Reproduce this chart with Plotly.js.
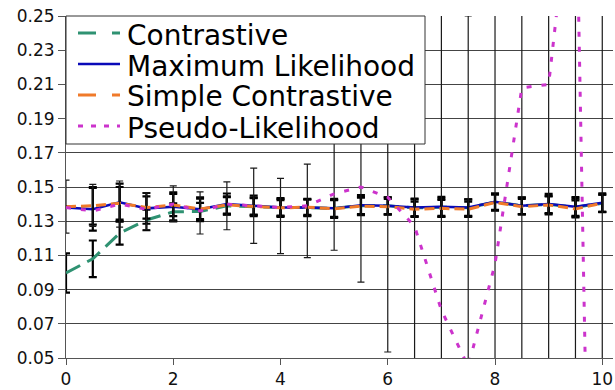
<!DOCTYPE html>
<html>
<head>
<meta charset="utf-8">
<script src="https://cdn.plot.ly/plotly-3.0.1.min.js"></script>
<style>
  html, body { margin: 0; padding: 0; background: #fff; }
  #chart { width: 615px; height: 390px; }
</style>
</head>
<body>
<div id="chart"></div>
<script>
// ---- data ----
const xVals = [0, 0.5, 1, 1.5, 2, 2.5, 3, 3.5, 4, 4.5, 5, 5.5, 6, 6.5, 7, 7.5, 8, 8.5, 9, 9.5, 10];
const seriesNames = ["Contrastive", "Maximum Likelihood", "Simple Contrastive", "Pseudo-Likelihood"];

const contrastive = [0.0997, 0.108, 0.123, 0.1307, 0.1355, 0.1357, 0.139, 0.1385, 0.138, 0.138, 0.1375, 0.1392, 0.139, 0.1378, 0.1382, 0.1378, 0.1412, 0.139, 0.1398, 0.1382, 0.1405];
const contrastiveErr = [0.0115, 0.0107, 0.0067, 0.006, 0.005, 0.005, 0.005, 0.005, 0.005, 0.005, 0.005, 0.005, 0.005, 0.005, 0.005, 0.005, 0.005, 0.005, 0.005, 0.005, 0.005];

const maxLik = [0.138, 0.137, 0.141, 0.1375, 0.1384, 0.137, 0.140, 0.139, 0.138, 0.138, 0.1375, 0.1394, 0.139, 0.138, 0.1384, 0.138, 0.1414, 0.139, 0.140, 0.1384, 0.1408];
const maxLikErr = [0, 0.0125, 0.011, 0.009, 0.0085, 0.007, 0.0062, 0.006, 0.0055, 0.0047, 0.0055, 0.0058, 0.005, 0.0052, 0.0058, 0.0048, 0.0048, 0.0048, 0.006, 0.0057, 0.0055];

const simpleContr = [0.1385, 0.139, 0.1405, 0.138, 0.1395, 0.1372, 0.1395, 0.1388, 0.1378, 0.1382, 0.1373, 0.1388, 0.1385, 0.137, 0.1375, 0.137, 0.141, 0.1385, 0.1395, 0.1372, 0.1405];
const simpleContrErr = [0, 0.011, 0.0095, 0.0065, 0.0065, 0.006, 0.005, 0.005, 0.0045, 0.0045, 0.005, 0.005, 0.0045, 0.0045, 0.005, 0.0045, 0.0045, 0.0045, 0.005, 0.005, 0.005];

const pseudoLik = [0.138, 0.136, 0.140, 0.137, 0.140, 0.136, 0.140, 0.139, 0.138, 0.139, 0.146, 0.150, 0.144, 0.127, 0.078, 0.045, 0.105, 0.208, 0.210, 0.35, -0.48];
const pseudoLikErrPlus = [0.016, 0.0155, 0.0135, 0.0096, 0.0107, 0.0112, 0.013, 0.022, 0.017, 0.0244, 0.034, 0.056, 0.09, 0.15, 0.2, 0.205, 0.25, 0.3, 0.4, 0.5, 1.0];
const pseudoLikErrMinus = [0.015, 0.009, 0.0135, 0.012, 0.010, 0.0135, 0.015, 0.022, 0.027, 0.0303, 0.033, 0.0556, 0.0905, 0.15, 0.2, 0.2, 0.25, 0.3, 0.4, 0.5, 1.0];

const yTickVals = [0.05, 0.07, 0.09, 0.11, 0.13, 0.15, 0.17, 0.19, 0.21, 0.23, 0.25];
const yTickText = ["0.05", "0.07", "0.09", "0.11", "0.13", "0.15", "0.17", "0.19", "0.21", "0.23", "0.25"];
const xTickVals = [0, 2, 4, 6, 8, 10];
const xTickText = ["0", "2", "4", "6", "8", "10"];

// ---- styles ----
const colors = ["#2f9272", "#0a0ab8", "#f07a2a", "#cc33cc"];
const dashes = ["16px,8px", "solid", "10px,5px", "5px,10px"];
const widths = [3, 2.5, 3, 3];
const legendDashes = ["18px,16px", "solid", "18px,16px", "5px,8px"];

const thickErr = (arr) => ({ type: "data", array: arr, visible: true, color: "#000", thickness: 2.2, width: 4 });

const traces = [
  { x: xVals, y: contrastive, name: seriesNames[0], mode: "lines",
    line: { color: colors[0], width: widths[0], dash: dashes[0] }, error_y: thickErr(contrastiveErr) },
  { x: xVals, y: maxLik, name: seriesNames[1], mode: "lines",
    line: { color: colors[1], width: widths[1] }, error_y: thickErr(maxLikErr) },
  { x: xVals, y: simpleContr, name: seriesNames[2], mode: "lines",
    line: { color: colors[2], width: widths[2], dash: dashes[2] }, error_y: thickErr(simpleContrErr) },
  { x: xVals, y: pseudoLik, name: seriesNames[3], mode: "lines",
    line: { color: colors[3], width: widths[3], dash: dashes[3] },
    error_y: { type: "data", symmetric: false, array: pseudoLikErrPlus, arrayminus: pseudoLikErrMinus,
               visible: true, color: "#1a1a1a", thickness: 1.2, width: 3.5 } }
].map(t => Object.assign(t, { showlegend: false, cliponaxis: true, hoverinfo: "skip" }));

// ---- layout geometry (pixels) ----
const W = 615, H = 390, ML = 66, MR = 2, MT = 16, MB = 32;
const pw = W - ML - MR, ph = H - MT - MB;
const px = (p) => (p - ML) / pw;
const py = (p) => (H - MB - p) / ph;

const legendRows = [35, 66, 97, 128];
const shapes = [
  { type: "rect", xref: "paper", yref: "paper", x0: px(66), x1: px(425), y0: py(144), y1: py(16),
    fillcolor: "#ffffff", line: { color: "#333", width: 1 }, layer: "above" }
];
const annotations = [];
seriesNames.forEach((n, i) => {
  shapes.push({ type: "line", xref: "paper", yref: "paper", x0: px(78), x1: px(120),
    y0: py(legendRows[i] - 2), y1: py(legendRows[i] - 2), layer: "above",
    line: { color: colors[i], width: widths[i], dash: legendDashes[i] } });
  annotations.push({ xref: "paper", yref: "paper", x: px(125), y: py(legendRows[i]), xanchor: "left",
    yanchor: "middle", showarrow: false, text: n,
    font: { family: "DejaVu Sans", size: 28, color: "#000" } });
});

const layout = {
  width: W, height: H,
  margin: { l: ML, r: MR, t: MT, b: MB, pad: 0 },
  paper_bgcolor: "#fff", plot_bgcolor: "#fff",
  showlegend: false,
  xaxis: { range: [0, 10.2], tickmode: "array", tickvals: xTickVals, ticktext: xTickText,
    showgrid: false, zeroline: false, showline: true, linecolor: "#555", linewidth: 1,
    ticks: "outside", ticklen: 6, tickcolor: "#555", ticklabelstandoff: 0,
    tickfont: { family: "DejaVu Sans", size: 17, color: "#111" } },
  yaxis: { range: [0.05, 0.25], tickmode: "array", tickvals: yTickVals, ticktext: yTickText,
    showgrid: true, gridcolor: "#444", gridwidth: 1, zeroline: false, showline: true,
    linecolor: "#555", linewidth: 1, ticks: "outside", ticklen: 7, tickcolor: "#555",
    tickfont: { family: "DejaVu Sans", size: 17, color: "#111" } },
  shapes: shapes,
  annotations: annotations
};

Plotly.newPlot("chart", traces, layout, { staticPlot: true, displayModeBar: false });
</script>
</body>
</html>
